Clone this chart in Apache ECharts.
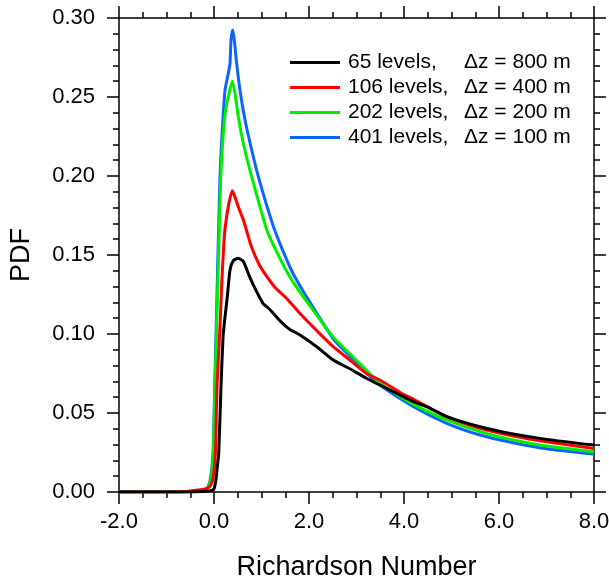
<!DOCTYPE html>
<html>
<head>
<meta charset="utf-8">
<script src="https://cdn.jsdelivr.net/npm/echarts@6/dist/echarts.min.js"></script>
<style>
html,body{margin:0;padding:0;background:#fff;}
#chart{width:609px;height:580px;}
</style>
</head>
<body>
<div id="chart"></div>
<script>
// ---- data ----
const seriesNames = ['65 levels,', '106 levels,', '202 levels,', '401 levels,'];
const dzLabels = ['\u0394z = 800 m', '\u0394z = 400 m', '\u0394z = 200 m', '\u0394z = 100 m'];
const xTickLabels = ['-2.0', '0.0', '2.0', '4.0', '6.0', '8.0'];
const yTickLabels = ['0.00', '0.05', '0.10', '0.15', '0.20', '0.25', '0.30'];

const blackX = [-2.0, -1.0, -0.5, -0.2, -0.05, 0.0, 0.04, 0.07, 0.10, 0.147, 0.19, 0.225, 0.28, 0.337, 0.406, 0.51, 0.62, 0.72, 0.83, 0.97, 1.04, 1.15, 1.25, 1.4, 1.6, 1.81, 2.16, 2.51, 2.86, 3.21, 3.49, 3.92, 4.2, 4.55, 4.9, 5.6, 6.3, 7.0, 8.0];
const blackY = [0, 0, 0, 0.0003, 0.001, 0.002, 0.0076, 0.016, 0.0249, 0.0667, 0.098, 0.109, 0.1236, 0.1405, 0.1464, 0.148, 0.1458, 0.1384, 0.131, 0.1226, 0.119, 0.1163, 0.113, 0.108, 0.1028, 0.0994, 0.092, 0.0835, 0.078, 0.072, 0.0677, 0.0613, 0.0572, 0.053, 0.0477, 0.0413, 0.0367, 0.0333, 0.0297];

const redX = [-2.0, -0.8, -0.5, -0.22, -0.1, -0.027, 0.03, 0.063, 0.13, 0.16, 0.196, 0.23, 0.30, 0.386, 0.45, 0.51, 0.62, 0.79, 0.95, 1.11, 1.3, 1.53, 1.81, 2.3, 2.51, 2.86, 3.21, 3.49, 3.92, 4.2, 4.9, 5.6, 6.3, 7.0, 8.0];
const redY = [0, 0, 0.0006, 0.0017, 0.003, 0.0076, 0.0249, 0.0667, 0.107, 0.13, 0.151, 0.166, 0.1806, 0.1907, 0.186, 0.1806, 0.172, 0.155, 0.144, 0.1365, 0.129, 0.1225, 0.113, 0.098, 0.092, 0.0835, 0.075, 0.0709, 0.063, 0.0587, 0.0477, 0.0403, 0.0354, 0.0318, 0.0276];

const greenX = [-2.0, -0.8, -0.4, -0.15, -0.07, -0.015, 0.02, 0.06, 0.14, 0.196, 0.246, 0.302, 0.386, 0.442, 0.512, 0.617, 0.793, 1.11, 1.32, 1.6, 1.99, 2.51, 2.86, 3.21, 3.49, 4.2, 4.9, 5.6, 6.3, 7.0, 8.0];
const greenY = [0, 0, 0.0005, 0.002, 0.0076, 0.0249, 0.0667, 0.109, 0.1975, 0.227, 0.2418, 0.250, 0.260, 0.2523, 0.2375, 0.2207, 0.1996, 0.166, 0.152, 0.136, 0.119, 0.098, 0.0875, 0.077, 0.0688, 0.0555, 0.0456, 0.0382, 0.0329, 0.0291, 0.0255];

const blueX = [-2.0, -0.8, -0.3, -0.15, -0.08, -0.02, 0.015, 0.05, 0.126, 0.175, 0.232, 0.302, 0.337, 0.358, 0.393, 0.428, 0.477, 0.547, 0.653, 0.793, 0.933, 1.25, 1.46, 1.67, 2.02, 2.51, 2.86, 3.21, 3.49, 4.2, 4.9, 5.6, 6.3, 7.0, 8.0];
const blueY = [0, 0, 0.0003, 0.002, 0.0076, 0.0249, 0.0667, 0.109, 0.1996, 0.229, 0.2544, 0.265, 0.2713, 0.286, 0.2924, 0.286, 0.2713, 0.2544, 0.2354, 0.2165, 0.1996, 0.168, 0.152, 0.138, 0.12, 0.097, 0.086, 0.0755, 0.0677, 0.054, 0.0435, 0.0361, 0.0312, 0.0274, 0.024];

const colors = ['#000000', '#ff0000', '#00ee00', '#0a64ff'];

// ---- build ----
function zip(xs, ys) { return xs.map((x, i) => [x, ys[i]]); }
const allX = [blackX, redX, greenX, blueX];
const allY = [blackY, redY, greenY, blueY];
const zOrder = [5, 4, 3, 2];

const FONT = 'Liberation Sans';

function xAxisDef(pos, showLabel) {
  return {
    type: 'value', position: pos, min: -2, max: 8, interval: 2,
    axisLine: { show: true, onZero: false, lineStyle: { color: '#000', width: 1.5 } },
    axisTick: { show: true, inside: false, length: 12, lineStyle: { color: '#000', width: 1.5 } },
    minorTick: { show: true, splitNumber: 4, length: 6, lineStyle: { color: '#000', width: 1.5 } },
    splitLine: { show: false },
    axisLabel: {
      show: showLabel, margin: 19, color: '#000', fontSize: 22, fontFamily: FONT,
      formatter: v => xTickLabels[Math.round((v + 2) / 2)] ?? ''
    },
    name: showLabel ? 'Richardson Number' : '',
    nameLocation: 'middle', nameGap: 62,
    nameTextStyle: { color: '#000', fontSize: 27, fontFamily: FONT }
  };
}
function yAxisDef(pos, showLabel) {
  return {
    type: 'value', position: pos, min: 0, max: 0.3, interval: 0.05,
    axisLine: { show: true, onZero: false, lineStyle: { color: '#000', width: 1.5 } },
    axisTick: { show: true, inside: false, length: 12, lineStyle: { color: '#000', width: 1.5 } },
    minorTick: { show: true, splitNumber: 5, length: 6, lineStyle: { color: '#000', width: 1.5 } },
    splitLine: { show: false },
    axisLabel: {
      show: showLabel, margin: 24, color: '#000', fontSize: 22, fontFamily: FONT,
      formatter: v => yTickLabels[Math.round(v / 0.05)] ?? ''
    },
    name: showLabel ? 'PDF' : '',
    nameLocation: 'middle', nameGap: 84, nameRotate: 90,
    nameTextStyle: { color: '#000', fontSize: 27, fontFamily: FONT }
  };
}

const chart = echarts.init(document.getElementById('chart'), null, { renderer: 'canvas' });
chart.setOption({
  animation: false,
  backgroundColor: '#fff',
  grid: { left: 119, right: 15, top: 18, bottom: 88, containLabel: false, outerBoundsMode: 'none' },
  xAxis: [xAxisDef('bottom', true), xAxisDef('top', false)],
  yAxis: [yAxisDef('left', true), yAxisDef('right', false)],
  legend: {
    orient: 'vertical', left: 290, top: 50, padding: 0,
    itemWidth: 50, itemHeight: 3, itemGap: 0, icon: 'rect',
    selectedMode: false,
    data: seriesNames,
    formatter: name => '{a|' + name + '}{b|' + dzLabels[seriesNames.indexOf(name)] + '}',
    textStyle: {
      color: '#000', fontSize: 21, fontFamily: FONT, lineHeight: 25,
      rich: {
        a: { width: 116, fontSize: 21, fontFamily: FONT, color: '#000', padding: [0, 0, 0, 3], lineHeight: 25 },
        b: { fontSize: 21, fontFamily: FONT, color: '#000', lineHeight: 25 }
      }
    }
  },
  series: seriesNames.map((n, i) => ({
    name: n, type: 'line', xAxisIndex: 0, yAxisIndex: 0,
    data: zip(allX[i], allY[i]),
    showSymbol: false, symbol: 'none',
    smooth: 0.2,
    z: zOrder[i],
    lineStyle: { color: colors[i], width: 3, join: 'round' },
    itemStyle: { color: colors[i] }
  }))
});
</script>
</body>
</html>
